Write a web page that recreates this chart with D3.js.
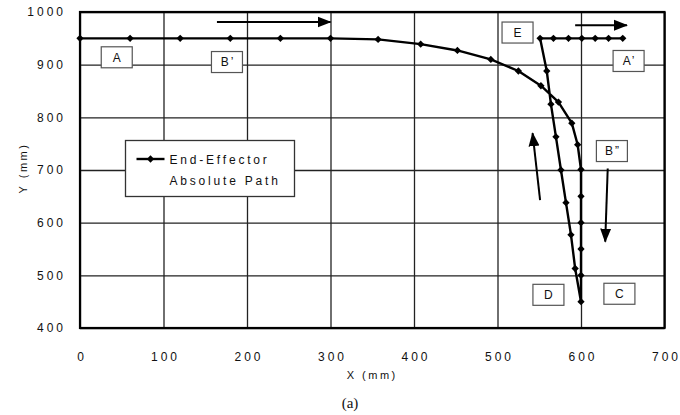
<!DOCTYPE html>
<html>
<head>
<meta charset="utf-8">
<script src="https://cdn.jsdelivr.net/npm/d3@7"></script>
<style>
  body { margin: 0; background: #fff; }
  svg { display: block; font-family: "Liberation Sans", Arial, sans-serif; }
</style>
</head>
<body>
<div id="chart"></div>
<script>
// end-effector path (mm)
const pathX = [0, 60, 120, 180, 240, 300, 357, 408, 452, 492, 525, 552, 573, 589, 596, 600,
  600, 600, 600, 600, 600,
  593, 588, 582, 576, 570, 564, 559, 551,
  567, 585, 601, 617, 633, 650];
const pathY = [950, 950, 950, 950, 950, 950, 948, 939, 927, 910, 888, 860, 829, 789, 748, 701,
  650, 600, 550, 500, 450,
  513, 577, 638, 700, 763, 825, 888, 950,
  950, 950, 950, 950, 950, 950];

const xTicks = [0, 100, 200, 300, 400, 500, 600, 700];
const yTicks = [400, 500, 600, 700, 800, 900, 1000];

// point labels: text, x, y (data units)
const labelText = ['A', 'B\u2019', 'E', 'A\u2019', 'B\u201D', 'D', 'C'];
const labelX = [44, 176, 524, 657, 637, 561, 646];
const labelY = [914, 905, 961, 907, 736, 463, 465];

// direction arrows: start and end (data units)
const arrowX1 = [164, 593, 551, 632];
const arrowY1 = [981, 975, 643, 703];
const arrowX2 = [300, 655, 542, 629];
const arrowY2 = [981, 975, 770, 564];

const W = 680, H = 415;
const margin = {top: 12, right: 15.5, bottom: 87, left: 80};
const width = W - margin.left - margin.right,
  height = H - margin.top - margin.bottom;

const svg = d3.select('#chart').append('svg')
  .attr('width', W)
  .attr('height', H);

svg.append('defs').append('marker')
  .attr('id', 'head')
  .attr('markerUnits', 'userSpaceOnUse')
  .attr('viewBox', '0 -6 14 12')
  .attr('markerWidth', 14)
  .attr('markerHeight', 12)
  .attr('refX', 13)
  .attr('refY', 0)
  .attr('orient', 'auto')
  .append('path')
  .attr('d', 'M0,-5.5L14,0L0,5.5Z')
  .attr('fill', '#000');

const g = svg.append('g')
  .attr('transform', 'translate(' + margin.left + ',' + margin.top + ')');

const x = d3.scaleLinear().domain([0, 700]).range([0, width]);
const y = d3.scaleLinear().domain([400, 1000]).range([height, 0]);

// grid
g.append('g')
  .attr('transform', 'translate(0,' + height + ')')
  .call(d3.axisBottom(x).tickValues(xTicks).tickSize(-height).tickFormat(''))
  .call(a => a.select('.domain').remove())
  .call(a => a.selectAll('line').attr('stroke', '#222').attr('stroke-width', 1.3));
g.append('g')
  .call(d3.axisLeft(y).tickValues(yTicks).tickSize(-width).tickFormat(''))
  .call(a => a.select('.domain').remove())
  .call(a => a.selectAll('line').attr('stroke', '#222').attr('stroke-width', 1.3));

// tick labels
g.append('g')
  .attr('transform', 'translate(0,' + height + ')')
  .call(d3.axisBottom(x).tickValues(xTicks).tickSize(0).tickPadding(24).tickFormat(d3.format('d')))
  .call(a => a.select('.domain').remove())
  .call(a => a.selectAll('text')
    .attr('font-size', 12).attr('font-family', '"Liberation Sans", Arial, sans-serif')
    .attr('fill', '#111').attr('letter-spacing', 3).attr('dx', 1.5));
g.append('g')
  .call(d3.axisLeft(y).tickValues(yTicks).tickSize(0).tickPadding(14).tickFormat(d3.format('d')))
  .call(a => a.select('.domain').remove())
  .call(a => a.selectAll('text')
    .attr('font-size', 12).attr('font-family', '"Liberation Sans", Arial, sans-serif')
    .attr('fill', '#111').attr('letter-spacing', 3));

// plot border
g.append('rect')
  .attr('width', width).attr('height', height)
  .attr('fill', 'none').attr('stroke', '#000').attr('stroke-width', 2.2);

// axis titles
svg.append('text')
  .attr('x', margin.left + width / 2).attr('y', 379)
  .attr('text-anchor', 'middle').attr('font-size', 11).attr('letter-spacing', 2.5)
  .attr('fill', '#111').text('X (mm)');
svg.append('text')
  .attr('transform', 'translate(27,168) rotate(-90)')
  .attr('text-anchor', 'middle').attr('font-size', 11).attr('letter-spacing', 2.5)
  .attr('fill', '#111').text('Y (mm)');
svg.append('text')
  .attr('x', 350).attr('y', 408)
  .attr('text-anchor', 'middle').attr('font-size', 15)
  .attr('font-family', '"Liberation Serif", "Times New Roman", serif')
  .attr('fill', '#111').text('(a)');

// path
const pts = pathX.map((d, i) => [d, pathY[i]]);
g.append('path')
  .datum(pts)
  .attr('fill', 'none')
  .attr('stroke', '#000')
  .attr('stroke-width', 2.4)
  .attr('stroke-linejoin', 'round')
  .attr('d', d3.line().x(d => x(d[0])).y(d => y(d[1])));

const diamond = d3.symbol().type(d3.symbolDiamond2).size(34);
g.selectAll('.pt')
  .data(pts)
  .enter().append('path')
  .attr('class', 'pt')
  .attr('transform', d => 'translate(' + x(d[0]) + ',' + y(d[1]) + ')')
  .attr('d', diamond)
  .attr('fill', '#000');

// arrows
g.selectAll('.arrow')
  .data(arrowX1.map((d, i) => i))
  .enter().append('line')
  .attr('class', 'arrow')
  .attr('x1', i => x(arrowX1[i])).attr('y1', i => y(arrowY1[i]))
  .attr('x2', i => x(arrowX2[i])).attr('y2', i => y(arrowY2[i]))
  .attr('stroke', '#000').attr('stroke-width', 2)
  .attr('marker-end', 'url(#head)');

// point label boxes
const lab = g.selectAll('.lab')
  .data(labelText.map((d, i) => i))
  .enter().append('g')
  .attr('class', 'lab')
  .attr('transform', i => 'translate(' + x(labelX[i]) + ',' + y(labelY[i]) + ')');
lab.append('rect')
  .attr('x', -15.5).attr('y', -10.5).attr('width', 31).attr('height', 21)
  .attr('fill', '#fff').attr('stroke', '#555').attr('stroke-width', 1.2);
lab.append('text')
  .attr('text-anchor', 'middle').attr('dy', '0.36em')
  .attr('font-size', 12).attr('letter-spacing', 2).attr('dx', 1)
  .attr('fill', '#111')
  .text(i => labelText[i]);

// legend
const leg = svg.append('g').attr('transform', 'translate(125.5,140.5)');
leg.append('rect')
  .attr('width', 169).attr('height', 56)
  .attr('fill', '#fff').attr('stroke', '#333').attr('stroke-width', 1.3);
leg.append('line')
  .attr('x1', 11).attr('x2', 39).attr('y1', 18.5).attr('y2', 18.5)
  .attr('stroke', '#000').attr('stroke-width', 2.4);
leg.append('path')
  .attr('transform', 'translate(25,18.5)')
  .attr('d', diamond).attr('fill', '#000');
leg.append('text')
  .attr('x', 44).attr('y', 23)
  .attr('font-size', 12).attr('letter-spacing', 2.8).attr('fill', '#111')
  .text('End-Effector');
leg.append('text')
  .attr('x', 44).attr('y', 44)
  .attr('font-size', 12).attr('letter-spacing', 2.8).attr('fill', '#111')
  .text('Absolute Path');
</script>
</body>
</html>
